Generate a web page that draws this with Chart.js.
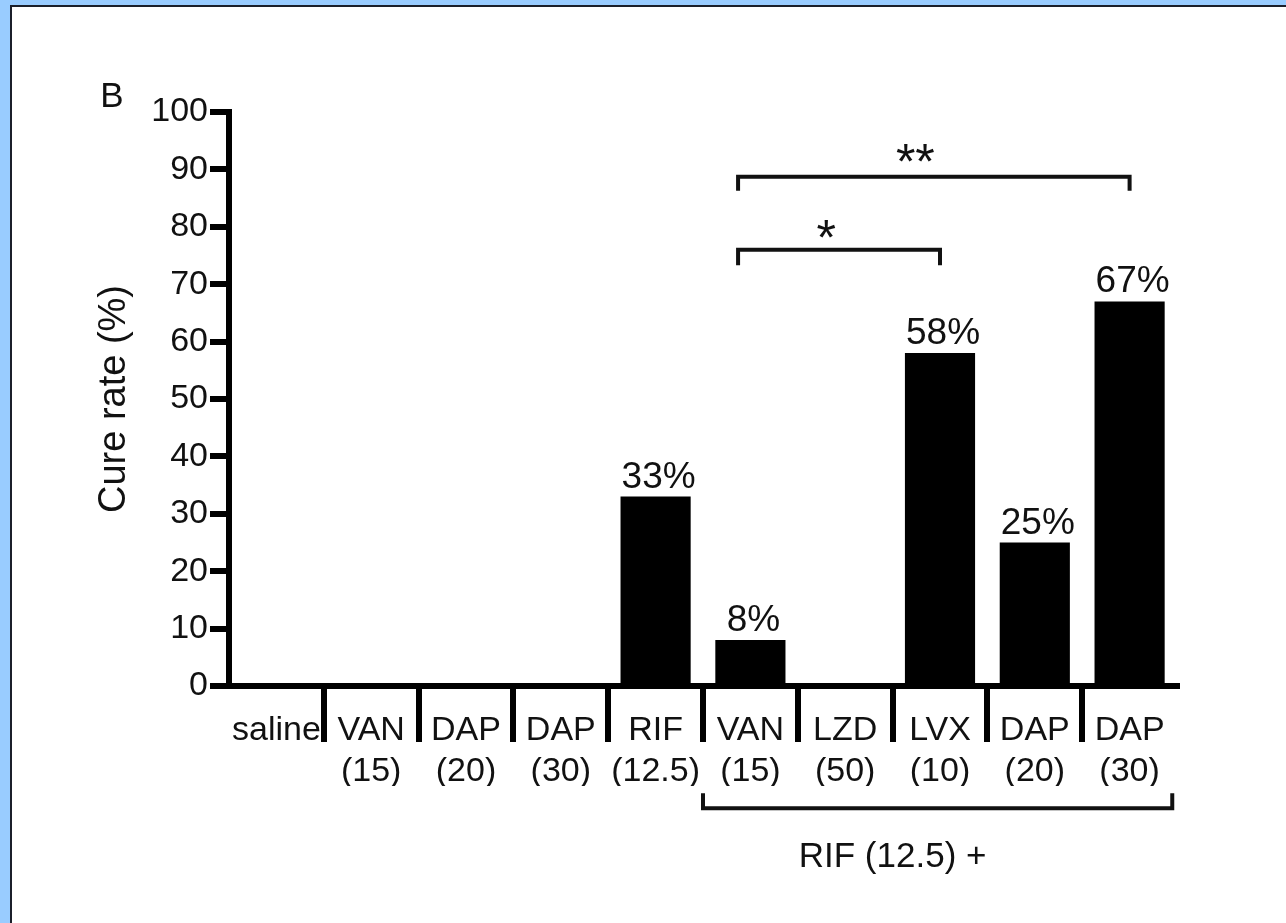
<!DOCTYPE html>
<html>
<head>
<meta charset="utf-8">
<title>Cure rate</title>
<script src="https://cdn.jsdelivr.net/npm/chart.js@4.4.1/dist/chart.umd.min.js"></script>
<style>
  html, body { margin: 0; padding: 0; }
  body { width: 1286px; height: 923px; background: #99ccff; position: relative; overflow: hidden; }
  #panel { position: absolute; left: 10px; top: 5px; right: 0; bottom: 0; background: #ffffff;
           border-left: 2px solid #1b1f2a; border-top: 2px solid #1b1f2a; }
  #chart { position: absolute; left: 0; top: 0; }
</style>
</head>
<body>
<div id="panel"></div>
<canvas id="chart" width="1286" height="923"></canvas>
<script>
// Treatment groups (dose in mg/kg shown on the second line)
const categories = [
  ['saline'],
  ['VAN', '(15)'],
  ['DAP', '(20)'],
  ['DAP', '(30)'],
  ['RIF', '(12.5)'],
  ['VAN', '(15)'],
  ['LZD', '(50)'],
  ['LVX', '(10)'],
  ['DAP', '(20)'],
  ['DAP', '(30)']
];

// Cure rate per group, %
const cureRate = [0, 0, 0, 0, 33, 8, 0, 58, 25, 67];

// Y axis ticks
const yTicks = [0, 10, 20, 30, 40, 50, 60, 70, 80, 90, 100];

// Pairwise comparisons (category indices) and their significance marks
const comparisonFrom = [5, 5];
const comparisonTo = [7, 9];
const comparisonMarks = ['*', '**'];

// Combination group label under the axis
const comboLabel = 'RIF (12.5) +';
const panelLetter = 'B';

const FONT = '"Liberation Sans", Arial, Helvetica, sans-serif';
const INK = '#111111';

const annotations = {
  id: 'annotations',
  afterDraw(chart, args, opts) {
    const ctx = chart.ctx;
    const x = chart.scales.x;
    const y = chart.scales.y;
    ctx.save();
    ctx.fillStyle = INK;
    ctx.strokeStyle = INK;

    // value labels above the bars
    ctx.font = '37px ' + FONT;
    ctx.textAlign = 'center';
    ctx.textBaseline = 'alphabetic';
    cureRate.forEach((v, i) => {
      if (v > 0) {
        ctx.fillText(v + '%', x.getPixelForValue(i) + 3, y.getPixelForValue(v) - 9);
      }
    });

    // significance brackets
    ctx.lineWidth = 4;
    ctx.lineCap = 'butt';
    const markSize = 50;
    comparisonFrom.forEach((from, k) => {
      const b = opts.brackets[k];
      const x0 = x.getPixelForValue(from + b.inset);
      const x1 = x.getPixelForValue(comparisonTo[k]);
      const yl = y.getPixelForValue(b.level);
      const yd = y.getPixelForValue(b.level - b.drop);
      ctx.beginPath();
      ctx.moveTo(x0, yd);
      ctx.lineTo(x0, yl);
      ctx.lineTo(x1, yl);
      ctx.lineTo(x1, yd);
      ctx.stroke();
      // the asterisk glyph sits high in the em box; place its centre on markLevel
      ctx.font = markSize + 'px ' + FONT;
      ctx.textAlign = 'center';
      ctx.textBaseline = 'alphabetic';
      ctx.fillText(comparisonMarks[k], x.getPixelForValue(b.markAt),
                   y.getPixelForValue(b.markLevel) + markSize * 0.58);
    });

    // bracket grouping the combination regimens
    const g = opts.group;
    const gx0 = x.getPixelForValue(g.from);
    const gx1 = x.getPixelForValue(g.to);
    const gy = y.getPixelForValue(g.level);
    const gyUp = y.getPixelForValue(g.level + g.rise);
    ctx.lineWidth = 4;
    ctx.beginPath();
    ctx.moveTo(gx0, gyUp);
    ctx.lineTo(gx0, gy);
    ctx.lineTo(gx1, gy);
    ctx.lineTo(gx1, gyUp);
    ctx.stroke();
    ctx.font = '35px ' + FONT;
    ctx.textAlign = 'center';
    ctx.textBaseline = 'middle';
    ctx.fillText(comboLabel, x.getPixelForValue(g.labelAt), y.getPixelForValue(g.labelLevel));

    // panel letter
    ctx.font = '35px ' + FONT;
    ctx.textAlign = 'center';
    ctx.textBaseline = 'alphabetic';
    ctx.fillText(panelLetter, 112, 107);
    ctx.restore();
  }
};

new Chart(document.getElementById('chart'), {
  type: 'bar',
  data: {
    labels: categories,
    datasets: [{
      data: cureRate,
      backgroundColor: '#000000',
      borderWidth: 0,
      barPercentage: 0.74,
      categoryPercentage: 1.0
    }]
  },
  options: {
    responsive: false,
    animation: false,
    devicePixelRatio: 1,
    layout: { padding: { left: 80, top: 112, right: 109, bottom: 137 } },
    plugins: {
      legend: { display: false },
      tooltip: { enabled: false },
      annotations: {
        brackets: [
          { inset: -0.13, level: 76, drop: 2.7, markAt: 5.8, markLevel: 80.1 },
          { inset: -0.13, level: 88.7, drop: 2.4, markAt: 6.74, markLevel: 93.3 }
        ],
        group: { from: 4.5, to: 9.45, level: -21.3, rise: 2.6, labelAt: 6.5, labelLevel: -29.8 }
      }
    },
    scales: {
      x: {
        offset: true,
        afterFit(scale) { scale.height = 100; },
        grid: {
          offset: true,
          drawOnChartArea: false,
          drawTicks: true,
          tickLength: 56,
          lineWidth: 6,
          // separators only between groups, none at the two ends of the axis
          color: (c) => (c.type !== 'tick' || c.index === 0) ? 'rgba(0,0,0,0)' : '#000000'
        },
        border: { display: true, width: 6, color: '#000000' },
        ticks: {
          autoSkip: false,
          maxRotation: 0,
          minRotation: 0,
          padding: -32,
          color: INK,
          font: { family: FONT, size: 34, lineHeight: 1.2 }
        }
      },
      y: {
        min: 0,
        max: 100,
        afterFit(scale) { scale.width = 149; },
        afterBuildTicks(scale) { scale.ticks = yTicks.map(v => ({ value: v })); },
        grid: {
          drawOnChartArea: false,
          drawTicks: true,
          tickLength: 19,
          lineWidth: 6,
          color: '#000000'
        },
        border: { display: true, width: 6, color: '#000000' },
        ticks: {
          padding: 2,
          color: INK,
          font: { family: FONT, size: 34 }
        },
        title: {
          display: true,
          text: 'Cure rate (%)',
          color: INK,
          font: { family: FONT, size: 38, lineHeight: 1.2 },
          padding: { top: 12, bottom: 0 }
        }
      }
    }
  },
  plugins: [annotations]
});
</script>
</body>
</html>
